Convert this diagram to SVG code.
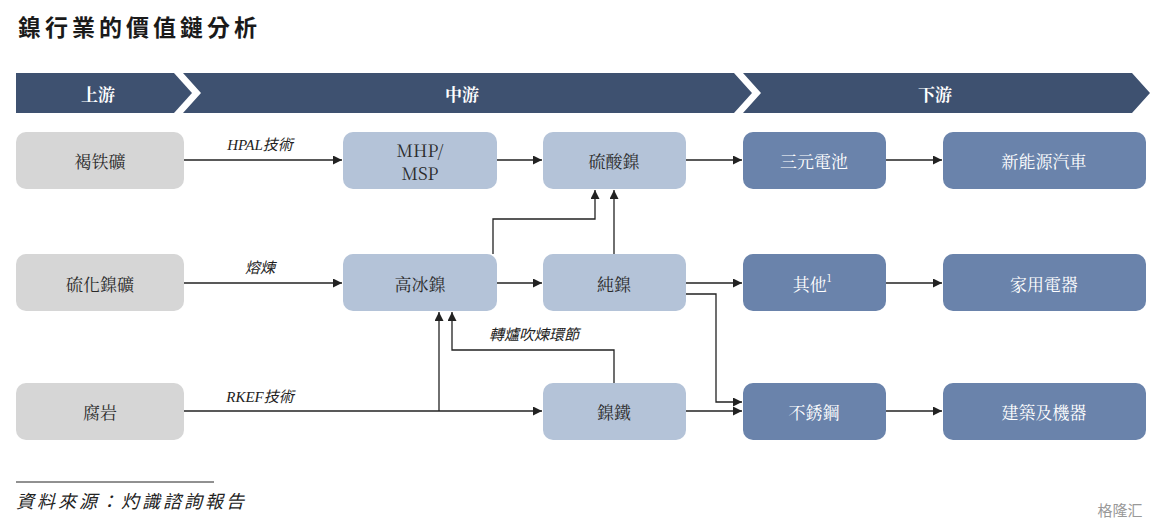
<svg xmlns="http://www.w3.org/2000/svg" width="1168" height="528" viewBox="0 0 1168 528">
<style>
.t{font-family:"Noto Serif CJK TC","Noto Sans CJK TC","Liberation Serif",serif;font-size:17px;fill:#2a2a2a;text-anchor:middle;dominant-baseline:central}
.w{fill:#fff;font-weight:bold}
.v{fill:#fff}
.l{font-family:"Liberation Serif","Noto Sans CJK TC",serif;font-style:italic;font-size:15px;fill:#222;text-anchor:middle}
.g{fill:#d6d6d6}.m{fill:#b4c3d8}.d{fill:#6a83ab}
.c{fill:none;stroke:#222;stroke-width:1.3;marker-end:url(#a)}
</style>
<defs><marker id="a" viewBox="0 0 10 10" refX="10" refY="5" markerWidth="9" markerHeight="9" markerUnits="userSpaceOnUse" orient="auto"><path d="M0,0L10,5L0,10z" fill="#222"/></marker></defs>
<rect width="1168" height="528" fill="#fff"/>
<text x="18" y="36" font-family="Noto Sans CJK TC,serif" font-weight="bold" font-size="23" letter-spacing="4" fill="#1a1a1a">鎳行業的價值鏈分析</text>
<g id="banner" fill="#3e5170">
<path d="M16,73H174L192,93L174,113H16z"/>
<path d="M183,73H734L752,93L734,113H183L201,93z"/>
<path d="M743,73H1132L1150,93L1132,113H743L761,93z"/>
<text class="t w" x="98" y="93">上游</text>
<text class="t w" x="462" y="93">中游</text>
<text class="t w" x="935" y="93">下游</text>
</g>
<g id="connectors">
<path class="c" d="M184,160H342"/>
<path class="c" d="M497,160H542"/>
<path class="c" d="M686,160H742"/>
<path class="c" d="M886,160H942"/>
<path class="c" d="M184,283H342"/>
<path class="c" d="M497,283H542"/>
<path class="c" d="M686,283H742"/>
<path class="c" d="M886,283H942"/>
<path class="c" d="M184,411H542"/>
<path class="c" d="M686,411H742"/>
<path class="c" d="M886,411H942"/>
<path class="c" d="M493,254V219H595V190"/>
<path class="c" d="M614,254V190"/>
<path class="c" d="M439,411V312"/>
<path class="c" d="M614,383V350H452V312"/>
<path class="c" d="M686,294H716V402H742"/>
<text class="l" x="260" y="150">HPAL技術</text>
<text class="l" x="260" y="273">熔煉</text>
<text class="l" x="260" y="402">RKEF技術</text>
<text class="l" x="534" y="340">轉爐吹煉環節</text>
</g>
<g id="n1"><rect class="g" x="16" y="132" width="168" height="57" rx="10"/><text class="t" x="100" y="160">褐铁礦</text></g>
<g id="n2"><rect class="g" x="16" y="254" width="168" height="57" rx="10"/><text class="t" x="100" y="283">硫化鎳礦</text></g>
<g id="n3"><rect class="g" x="16" y="383" width="168" height="57" rx="10"/><text class="t" x="100" y="411">腐岩</text></g>
<g id="n4"><rect class="m" x="343" y="132" width="154" height="57" rx="10"/><text class="t" x="420" y="149" font-size="16">MHP/</text><text class="t" x="420" y="172" font-size="16">MSP</text></g>
<g id="n5"><rect class="m" x="543" y="132" width="143" height="57" rx="10"/><text class="t" x="614" y="160">硫酸鎳</text></g>
<g id="n6"><rect class="m" x="343" y="254" width="154" height="57" rx="10"/><text class="t" x="420" y="283">高冰鎳</text></g>
<g id="n7"><rect class="m" x="543" y="254" width="143" height="57" rx="10"/><text class="t" x="614" y="283">純鎳</text></g>
<g id="n8"><rect class="m" x="543" y="383" width="143" height="57" rx="10"/><text class="t" x="614" y="411">鎳鐵</text></g>
<g id="n9"><rect class="d" x="743" y="132" width="143" height="57" rx="10"/><text class="t v" x="814" y="160">三元電池</text></g>
<g id="n10"><rect class="d" x="743" y="254" width="143" height="57" rx="10"/><text class="t v" x="812" y="283">其他<tspan font-size="10" dy="-6">1</tspan></text></g>
<g id="n11"><rect class="d" x="743" y="383" width="143" height="57" rx="10"/><text class="t v" x="814" y="411">不銹鋼</text></g>
<g id="n12"><rect class="d" x="943" y="132" width="203" height="57" rx="10"/><text class="t v" x="1044" y="160">新能源汽車</text></g>
<g id="n13"><rect class="d" x="943" y="254" width="203" height="57" rx="10"/><text class="t v" x="1044" y="283">家用電器</text></g>
<g id="n14"><rect class="d" x="943" y="383" width="203" height="57" rx="10"/><text class="t v" x="1044" y="411">建築及機器</text></g>
<line x1="16" y1="482" x2="214" y2="482" stroke="#222" stroke-width="1"/>
<text x="16" y="508" font-family="Noto Sans CJK TC,serif" font-style="italic" font-size="18" letter-spacing="3" fill="#222">資料來源：灼識諮詢報告</text>
<text x="1120" y="516" font-family="Noto Sans CJK TC,sans-serif" font-size="15" fill="#999" text-anchor="middle">格隆汇</text>
</svg>
